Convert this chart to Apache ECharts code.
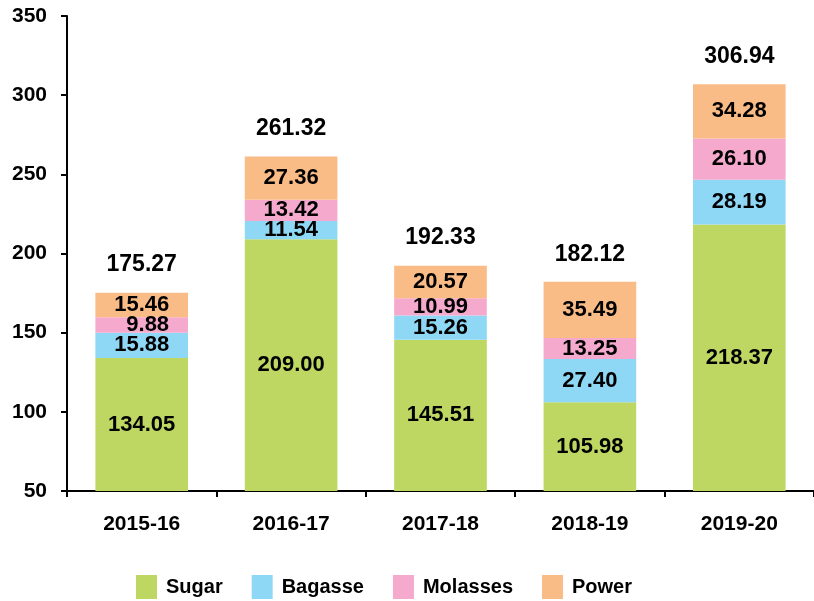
<!DOCTYPE html>
<html>
<head>
<meta charset="utf-8">
<script src="https://cdn.jsdelivr.net/npm/echarts@6/dist/echarts.min.js"></script>
<style>
html,body{margin:0;padding:0;background:#fff;}
#chart{width:814px;height:601px;}
</style>
</head>
<body>
<div id="chart"></div>
<script>
const categories = ['2015-16', '2016-17', '2017-18', '2018-19', '2019-20'];
const sugar = [134.05, 209.00, 145.51, 105.98, 218.37];
const bagasse = [15.88, 11.54, 15.26, 27.40, 28.19];
const molasses = [9.88, 13.42, 10.99, 13.25, 26.10];
const power = [15.46, 27.36, 20.57, 35.49, 34.28];
const totals = [175.27, 261.32, 192.33, 182.12, 306.94];
const yTicks = [50, 100, 150, 200, 250, 300, 350];

const FONT = '"Liberation Sans", Arial, Helvetica, sans-serif';
const colors = {
  Sugar: '#BDD762',
  Bagasse: '#8ED8F6',
  Molasses: '#F4A9CD',
  Power: '#FABC86'
};

const innerLabel = {
  show: true,
  position: 'inside',
  color: '#000',
  fontFamily: FONT,
  fontWeight: 'bold',
  fontSize: 22,
  formatter: p => Number(p.value).toFixed(2)
};

function stackSeries(name, values) {
  return {
    name: name,
    type: 'bar',
    stack: 'total',
    barWidth: '62%',
    itemStyle: { color: colors[name] },
    label: innerLabel,
    data: values.map(v => v < 10 ? { value: v, label: { offset: [6, 0] } } : v)
  };
}

const chart = echarts.init(document.getElementById('chart'), null, { renderer: 'canvas' });
chart.setOption({
  animation: false,
  backgroundColor: '#fff',
  textStyle: { fontFamily: FONT },
  grid: { left: 67, right: 0, top: 16, bottom: 110, containLabel: false },
  legend: {
    left: 131,
    top: 570,
    itemWidth: 21,
    itemHeight: 24,
    itemGap: 29,
    icon: 'rect',
    data: ['Sugar', 'Bagasse', 'Molasses', 'Power'],
    textStyle: { fontFamily: FONT, fontWeight: 'bold', fontSize: 20, color: '#000', padding: [0, 0, 0, 4] }
  },
  xAxis: {
    type: 'category',
    data: categories,
    boundaryGap: true,
    axisLine: { lineStyle: { color: '#000', width: 2 } },
    axisTick: { show: true, length: 6, lineStyle: { color: '#000', width: 2 } },
    axisLabel: { color: '#000', fontFamily: FONT, fontWeight: 'bold', fontSize: 21, margin: 23 }
  },
  yAxis: {
    type: 'value',
    min: yTicks[0],
    max: yTicks[yTicks.length - 1],
    interval: 50,
    splitLine: { show: false },
    axisLine: { show: true, lineStyle: { color: '#000', width: 2 } },
    axisTick: { show: true, length: 6, lineStyle: { color: '#000', width: 2 } },
    axisLabel: { color: '#000', fontFamily: FONT, fontWeight: 'bold', fontSize: 21, margin: 20 }
  },
  series: [
    stackSeries('Sugar', sugar),
    stackSeries('Bagasse', bagasse),
    stackSeries('Molasses', molasses),
    stackSeries('Power', power),
    {
      name: 'Total',
      type: 'bar',
      barWidth: '62%',
      barGap: '-100%',
      silent: true,
      z: 1,
      itemStyle: { color: 'rgba(0,0,0,0)' },
      label: {
        show: true,
        position: 'top',
        distance: 16,
        color: '#000',
        fontFamily: FONT,
        fontWeight: 'bold',
        fontSize: 23,
        formatter: p => Number(p.value).toFixed(2)
      },
      data: totals
    }
  ]
});
</script>
</body>
</html>
